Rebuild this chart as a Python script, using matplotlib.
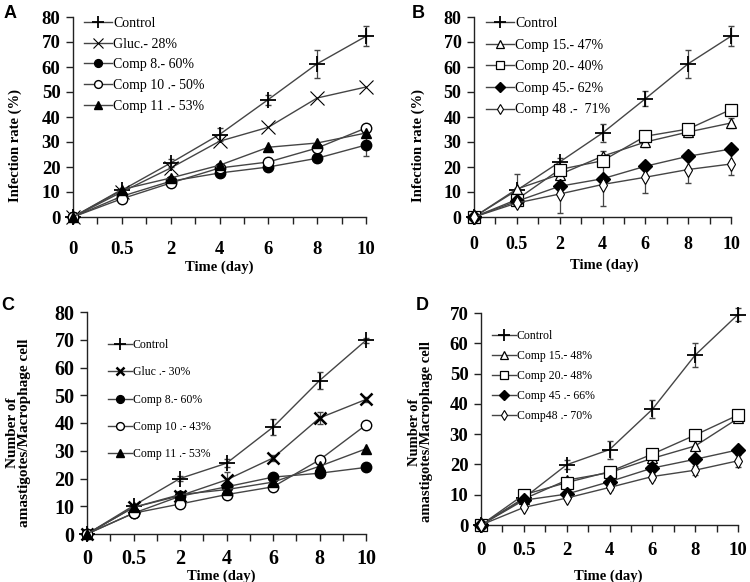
import matplotlib.pyplot as plt
import numpy as np

# x axis is categorical (days)
days = ['0', '0.5', '2', '4', '6', '8', '10']

# panel A - infection rate
a_control = [0, 10.7, 21.6, 33, 47, 61.3, 72.3]
a_gluc = [0, 10, 19.6, 30.3, 35.9, 47.6, 52]
a_comp8 = [0, 8.3, 14.3, 17.6, 20, 23.5, 28.8]
a_comp10 = [0, 7.3, 13.6, 19.6, 22, 27.6, 35.6]
a_comp11 = [0, 11, 15.6, 20.7, 27.9, 29.6, 33.6]
a_control_err = [0, 1, 1.5, 2.5, 2, 5.5, 4]
a_comp8_err = [0, 1, 1, 1, 1, 1.5, 4.5]

# panel B - infection rate
b_control = [0, 10.7, 22, 33.6, 47.3, 61.3, 72.3]
b_comp15 = [0, 11.2, 17, 24.3, 30, 34, 37.6]
b_comp20 = [0, 7, 19, 22.5, 32.3, 35.2, 43]
b_comp45 = [0, 6.3, 12.3, 15.3, 20.3, 24.3, 27.2]
b_comp48 = [0, 5.6, 9.2, 13, 15.9, 19, 21.2]
b_control_err = [0, 1, 1.5, 3.5, 3, 5.5, 4]
b_comp15_err = [0, 6, 2, 2, 2, 2, 2]
b_comp48_err = [0, 1, 7.4, 8.5, 6.3, 5.3, 4.4]

# panel C - amastigotes per macrophage
c_control = [0, 10.2, 20, 25.5, 38.5, 55.3, 69.8]
c_gluc = [0, 9.6, 13.8, 19.5, 27.4, 41.8, 48.5]
c_comp8 = [0, 7.5, 13.6, 17, 20.5, 21.9, 24]
c_comp10 = [0, 7.5, 10.8, 14.2, 17, 26.7, 39.3]
c_comp11 = [0, 9.6, 14.2, 16, 18.7, 24.4, 30.7]
c_control_err = [0, 0.5, 1, 1.5, 3, 3, 1]
c_gluc_err = [0, 0.5, 1, 3, 1, 2, 1]

# panel D - amastigotes per macrophage
d_control = [0, 8.9, 19.9, 24.9, 38.2, 56.1, 69.5]
d_comp15 = [0, 8.6, 14.8, 17.3, 22, 26.1, 35.2]
d_comp20 = [0, 10, 14, 17.6, 23.4, 29.7, 36.3]
d_comp45 = [0, 8.2, 10.2, 14.3, 18.8, 21.7, 24.8]
d_comp48 = [0, 5.8, 8.9, 12.4, 16, 18.1, 21.2]
d_control_err = [0, 0.5, 1.5, 3, 3, 4, 2]
d_comp48_err = [0, 0.5, 0.5, 1, 1, 1.5, 2]

serif = 'Liberation Serif'
line_col = '#454545'
W, H = 750, 582

fig = plt.figure(figsize=(7.5, 5.82), dpi=100)


def px_axes(left, right, bottom, top):
    # pixel box -> figure fraction
    return fig.add_axes([left / W, 1 - bottom / H, (right - left) / W, (bottom - top) / H])


def draw(ax, series, ymax, tick_fs, xpad, leg_fs, leg_pos, leg_space):
    x = np.arange(len(days))
    for vals, err, lab, mk, ms, face, mew in series:
        if err is not None:
            ax.errorbar(x, vals, yerr=err, fmt='none', ecolor=line_col,
                        elinewidth=0.9, capsize=2, clip_on=False)
        ax.plot(x, vals, label=lab, color=line_col, lw=1.0, marker=mk, ms=ms,
                mfc=face, mec='black', mew=mew, clip_on=False, zorder=3)
    ax.set_xlim(0, 6)
    ax.set_ylim(0, ymax)
    ax.set_yticks(np.arange(0, ymax + 1, 10))
    ax.set_xticks(x)
    ax.set_xticklabels(days)
    ax.set_xticks(x[:-1] + 0.5, minor=True)
    for s in ['top', 'right']:
        ax.spines[s].set_visible(False)
    for s in ['left', 'bottom']:
        ax.spines[s].set_color('#222222')
        ax.spines[s].set_linewidth(1.0)
    ax.tick_params(axis='both', which='both', direction='out', length=5, width=1, color='#222222')
    ax.tick_params(axis='x', pad=xpad)
    ax.tick_params(axis='y', pad=4)
    for t in ax.get_xticklabels() + ax.get_yticklabels():
        t.set_fontfamily(serif)
        t.set_fontweight('bold')
        t.set_fontsize(tick_fs)
    ax.legend(loc='upper left', bbox_to_anchor=(leg_pos[0] / W, 1 - leg_pos[1] / H),
              bbox_transform=fig.transFigure, frameon=False,
              prop={'family': serif, 'size': leg_fs}, handlelength=2.0, markerscale=0.75,
              handletextpad=0.1, labelspacing=leg_space, borderpad=0, borderaxespad=0)


def labels(ylab, ylab_xy, xlab_xy, fs):
    fig.text(ylab_xy[0] / W, 1 - ylab_xy[1] / H, ylab, rotation=90, ha='center', va='center',
             family=serif, weight='bold', fontsize=fs, linespacing=0.9)
    fig.text(xlab_xy[0] / W, 1 - xlab_xy[1] / H, 'Time (day)', ha='center', va='center',
             family=serif, weight='bold', fontsize=10.5)


axA = px_axes(73, 366, 217, 17)
draw(axA, [
    (a_control, a_control_err, 'Control', '+', 12, 'black', 1.3),
    (a_gluc, None, 'Gluc.- 28%', 'x', 10, 'black', 0.8),
    (a_comp8, a_comp8_err, 'Comp 8.- 60%', 'o', 7.5, 'black', 1),
    (a_comp10, None, 'Comp 10 .- 50%', 'o', 7.5, 'white', 1),
    (a_comp11, None, 'Comp 11 .- 53%', '^', 7.5, 'black', 1),
], 80, 13.5, 12, 10, (84, 17), 0.55)
labels('Infection rate (%)', (15, 145), (219, 267), 10.5)

axB = px_axes(474, 731, 217, 17)
draw(axB, [
    (b_control, b_control_err, 'Control', '+', 12, 'black', 1.3),
    (b_comp15, b_comp15_err, 'Comp 15.- 47%', '^', 7.5, 'white', 0.9),
    (b_comp20, None, 'Comp 20.- 40%', 's', 8, 'white', 0.9),
    (b_comp45, None, 'Comp 45.- 62%', 'D', 7, 'black', 1),
    (b_comp48, b_comp48_err, 'Comp 48 .-  71%', 'd', 7, 'white', 0.8),
], 80, 13, 8.5, 10, (486, 17), 0.62)
labels('Infection rate (%)', (418, 145), (604, 265), 10.5)

axC = px_axes(87, 366, 534, 312)
draw(axC, [
    (c_control, c_control_err, 'Control', '+', 12, 'black', 1.3),
    (c_gluc, c_gluc_err, 'Gluc .- 30%', 'x', 8, 'black', 1.8),
    (c_comp8, None, 'Comp 8.- 60%', 'o', 7.5, 'black', 1),
    (c_comp10, None, 'Comp 10 .- 43%', 'o', 7.5, 'white', 1),
    (c_comp11, None, 'Comp 11 .- 53%', '^', 7.5, 'black', 1),
], 80, 14.5, 6, 8.5, (108, 339), 1.3)
labels('Number of\namastigotes/Macrophage cell', (19, 433), (221, 576), 11)

axD = px_axes(481, 738, 525, 313)
draw(axD, [
    (d_control, d_control_err, 'Control', '+', 12, 'black', 1.3),
    (d_comp15, None, 'Comp 15.- 48%', '^', 7.5, 'white', 0.9),
    (d_comp20, None, 'Comp 20.- 48%', 's', 8, 'white', 0.9),
    (d_comp45, None, 'Comp 45 .- 66%', 'D', 7, 'black', 1),
    (d_comp48, d_comp48_err, 'Comp48 .- 70%', 'd', 7, 'white', 0.8),
], 70, 13.5, 7, 8.5, (492, 330), 0.68)
labels('Number of\namastigotes/Macrophage cell', (420, 432), (608, 576), 10.5)

# panel letters
for letter, (px, py) in zip('ABCD', [(10, 13), (418, 13), (8, 306), (422, 305)]):
    fig.text(px / W, 1 - py / H, letter, ha='center', va='center',
             family='Liberation Sans', weight='bold', fontsize=13)

fig.savefig('out.png', dpi=100)
